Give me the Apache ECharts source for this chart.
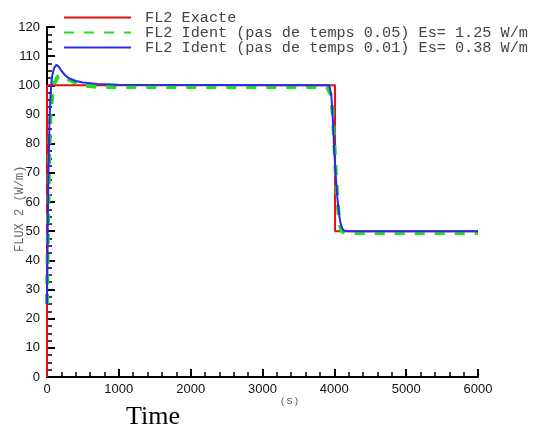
<!DOCTYPE html>
<html>
<head>
<meta charset="utf-8">
<script src="https://cdn.jsdelivr.net/npm/echarts@6/dist/echarts.min.js"></script>
<style>html,body{margin:0;padding:0;background:#fff}#c{width:535px;height:430px}</style>
</head>
<body>
<div id="c"></div>
<script>
const seriesNames = ['FL2 Exacte', 'FL2 Ident (pas de temps 0.05) Es= 1.25 W/m', 'FL2 Ident (pas de temps 0.01) Es= 0.38 W/m'];
const exactTime = [0, 0, 4010, 4010, 6000];
const exactFlux = [0, 100, 100, 50, 50];
const ident05Time = [0, 10, 20, 35, 50, 70, 100, 150, 200, 250, 300, 400, 500, 700, 1000, 3900, 3950, 3980, 4000, 4020, 4040, 4060, 4080, 4100, 4150, 6000];
const ident05Flux = [25, 45, 62, 80, 90, 96, 100.5, 103, 103.5, 103, 102, 100.8, 100, 99.5, 99.4, 99.4, 97, 90, 80, 70, 62, 56, 52, 50, 49.4, 49.4];
const ident01Time = [0, 10, 20, 35, 50, 70, 100, 130, 160, 200, 250, 300, 400, 500, 700, 1000, 3930, 3960, 3980, 4000, 4020, 4040, 4060, 4080, 4100, 4130, 4200, 6000];
const ident01Flux = [25, 50, 70, 88, 97, 103, 106, 107, 106.5, 105, 103.5, 102.5, 101.5, 101, 100.5, 100.2, 100, 96, 88, 77, 69, 62, 57, 53.5, 51.5, 50.2, 50, 50];
const xTicks = [0, 1000, 2000, 3000, 4000, 5000, 6000];
const yTicks = [0, 10, 20, 30, 40, 50, 60, 70, 80, 90, 100, 110, 120];

const zip = (t, v) => t.map((x, i) => [x, v[i]]);
const chart = echarts.init(document.getElementById('c'), null, {renderer: 'canvas'});
const axisCommon = {
  axisLine: {show: true, onZero: false, lineStyle: {color: '#000', width: 2}},
  axisTick: {show: true, inside: true, length: 8, lineStyle: {color: '#000', width: 2}},
  minorTick: {show: true, length: 5, lineStyle: {color: '#000', width: 1.5}},
  splitLine: {show: false},
  axisLabel: {color: '#111', fontFamily: 'Liberation Sans', fontSize: 13, formatter: v => String(v)}
};
chart.setOption({
  animation: false,
  backgroundColor: '#fff',
  grid: {left: 47, right: 57, top: 27, bottom: 53, containLabel: false},
  legend: {
    orient: 'vertical', left: 63, top: 10, padding: 0, itemWidth: 67, itemHeight: 14, itemGap: 0,
    formatter: ' {name}',
    itemStyle: {opacity: 0},
    textStyle: {fontFamily: 'Liberation Mono', fontSize: 15.2, color: '#444'},
    data: seriesNames
  },
  xAxis: Object.assign({}, axisCommon, {
    type: 'value', min: xTicks[0], max: xTicks[xTicks.length - 1], interval: 1000,
    minorTick: Object.assign({}, axisCommon.minorTick, {splitNumber: 5}),
    axisLabel: Object.assign({}, axisCommon.axisLabel, {margin: 6})
  }),
  yAxis: Object.assign({}, axisCommon, {
    type: 'value', min: yTicks[0], max: yTicks[yTicks.length - 1], interval: 10,
    minorTick: Object.assign({}, axisCommon.minorTick, {splitNumber: 4}),
    axisLabel: Object.assign({}, axisCommon.axisLabel, {margin: 7})
  }),
  graphic: [
    {type: 'text', rotation: Math.PI / 2, z: 10, position: [14, 252], silent: true,
     style: {text: 'FLUX 2 (W/m)', font: '12px "Liberation Mono"', fill: '#666'}},
    {type: 'text', left: 281, top: 397, style: {text: '( S )', font: '9px "Liberation Sans"', fill: '#444'}},
    {type: 'text', left: 126, top: 404, style: {text: 'Time', font: '26px "Liberation Serif"', fill: '#000'}}
  ],
  series: [
    {name: seriesNames[0], type: 'line', data: zip(exactTime, exactFlux), showSymbol: false, symbol: 'none',
     lineStyle: {color: '#e01010', width: 2}, itemStyle: {color: '#e01010'}, z: 3},
    {name: seriesNames[1], type: 'line', data: zip(ident05Time, ident05Flux), showSymbol: false, symbol: 'none',
     lineStyle: {color: '#22dd22', width: 4, type: [10, 10]}, itemStyle: {color: '#22dd22'}, z: 4},
    {name: seriesNames[2], type: 'line', data: zip(ident01Time, ident01Flux), showSymbol: false, symbol: 'none',
     lineStyle: {color: '#2a2aee', width: 2}, itemStyle: {color: '#2a2aee'}, z: 5}
  ]
});
</script>
</body>
</html>
